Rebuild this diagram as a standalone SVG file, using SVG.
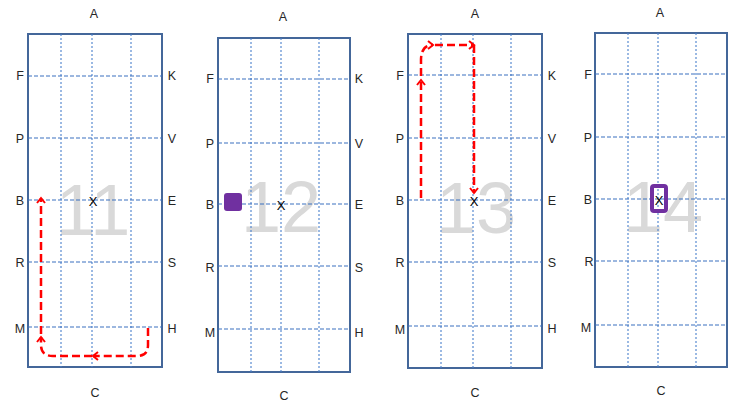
<svg xmlns="http://www.w3.org/2000/svg" width="732" height="403" viewBox="0 0 732 403">
<style>
.frame{fill:#fff;stroke:#44679a;stroke-width:2}
.big{font-family:"Liberation Sans",Arial,sans-serif;font-size:72px;fill:#d9d9d9;text-anchor:middle}
.gv{stroke:#4a80cc;stroke-width:1.1;stroke-dasharray:2 2;fill:none}
.gh{stroke:#3a70c0;stroke-width:1.1;stroke-dasharray:4 2;fill:none}
.lbl{font-family:"Liberation Sans",Arial,sans-serif;font-size:12.5px;fill:#262626;text-anchor:middle}
.x{font-family:"Liberation Sans",Arial,sans-serif;font-size:13px;fill:#000;text-anchor:middle}
.path{stroke:#ff0000;stroke-width:2.5;stroke-dasharray:8 4;fill:none;marker-end:url(#arr)}
</style>
<defs>
<marker id="arr" markerUnits="userSpaceOnUse" markerWidth="12" markerHeight="12" refX="6" refY="5" orient="auto">
<path d="M1,1 L6,5 L1,9" fill="none" stroke="#ff0000" stroke-width="2"/>
</marker>
</defs>
<rect width="732" height="403" fill="#fff"/>

<g id="panel11">
<rect class="frame" x="28" y="34" width="134" height="333"/>
<text class="big" x="93" y="235">11</text>
<path class="gv" d="M61,34V367M92,34V367M131,34V367"/>
<path class="gh" d="M28,76H162M28,138H162M28,200H162M28,262H162M28,327H162"/>
<text class="x" x="93" y="206">X</text>
<text class="lbl" x="94" y="18">A</text>
<text class="lbl" x="95" y="397">C</text>
<text class="lbl" x="20" y="80">F</text>
<text class="lbl" x="20" y="143">P</text>
<text class="lbl" x="20" y="205">B</text>
<text class="lbl" x="20" y="267">R</text>
<text class="lbl" x="20" y="333">M</text>
<text class="lbl" x="172" y="80">K</text>
<text class="lbl" x="172" y="143">V</text>
<text class="lbl" x="172" y="205">E</text>
<text class="lbl" x="172" y="267">S</text>
<text class="lbl" x="172" y="333">H</text>
</g>

<g id="panel12">
<rect class="frame" x="218" y="38" width="132" height="334"/>
<text class="big" x="281" y="232">12</text>
<path class="gv" d="M251,38V372M281,38V372M319,38V372"/>
<path class="gh" d="M218,79H350M218,143H350M218,204H350M218,266H350M218,329H350"/>
<rect x="224" y="193" width="18" height="18" rx="3" fill="#7030a0"/>
<text class="x" x="281" y="210">X</text>
<text class="lbl" x="283" y="21">A</text>
<text class="lbl" x="284" y="400">C</text>
<text class="lbl" x="210" y="83">F</text>
<text class="lbl" x="210" y="148">P</text>
<text class="lbl" x="210" y="209">B</text>
<text class="lbl" x="210" y="272">R</text>
<text class="lbl" x="210" y="337">M</text>
<text class="lbl" x="359" y="83">K</text>
<text class="lbl" x="359" y="148">V</text>
<text class="lbl" x="359" y="209">E</text>
<text class="lbl" x="359" y="272">S</text>
<text class="lbl" x="359" y="337">H</text>
</g>

<g id="panel13">
<rect class="frame" x="408" y="34" width="134" height="334"/>
<text class="big" x="476" y="233">13</text>
<path class="gv" d="M441,34V368M473,34V368M511,34V368"/>
<path class="gh" d="M408,75H542M408,138H542M408,200H542M408,262H542M408,326H542"/>
<text class="x" x="474" y="206">X</text>
<text class="lbl" x="475" y="18">A</text>
<text class="lbl" x="475" y="397">C</text>
<text class="lbl" x="400" y="80">F</text>
<text class="lbl" x="400" y="143">P</text>
<text class="lbl" x="400" y="205">B</text>
<text class="lbl" x="400" y="267">R</text>
<text class="lbl" x="400" y="334">M</text>
<text class="lbl" x="552" y="80">K</text>
<text class="lbl" x="552" y="143">V</text>
<text class="lbl" x="552" y="205">E</text>
<text class="lbl" x="552" y="267">S</text>
<text class="lbl" x="552" y="333">H</text>
</g>

<g id="panel14">
<rect class="frame" x="595" y="33" width="132" height="334"/>
<text class="big" x="663" y="232">14</text>
<path class="gv" d="M628,33V367M658,33V367M696,33V367"/>
<path class="gh" d="M595,74H727M595,137H727M595,199H727M595,261H727M595,325H727"/>
<rect x="652" y="186" width="14" height="25" rx="2" fill="none" stroke="#7030a0" stroke-width="4"/>
<text class="x" x="659" y="205">X</text>
<text class="lbl" x="660" y="17">A</text>
<text class="lbl" x="661" y="395">C</text>
<text class="lbl" x="588" y="79">F</text>
<text class="lbl" x="588" y="142">P</text>
<text class="lbl" x="588" y="204">B</text>
<text class="lbl" x="589" y="266">R</text>
<text class="lbl" x="586" y="332">M</text>
</g>

<g id="connectors">
<path class="path" d="M148,328 V345 Q148,356 137,356 H93"/>
<path class="path" d="M92,356 H53 Q41,356 41,345 V337"/>
<path class="path" d="M41,334 V198"/>
<path class="path" d="M421,198 V80"/>
<path class="path" d="M421,76 V60 Q421,45 433,45"/>
<path class="path" d="M435,45 H474"/>
<path class="path" d="M474,45 V193"/>
</g>
</svg>
